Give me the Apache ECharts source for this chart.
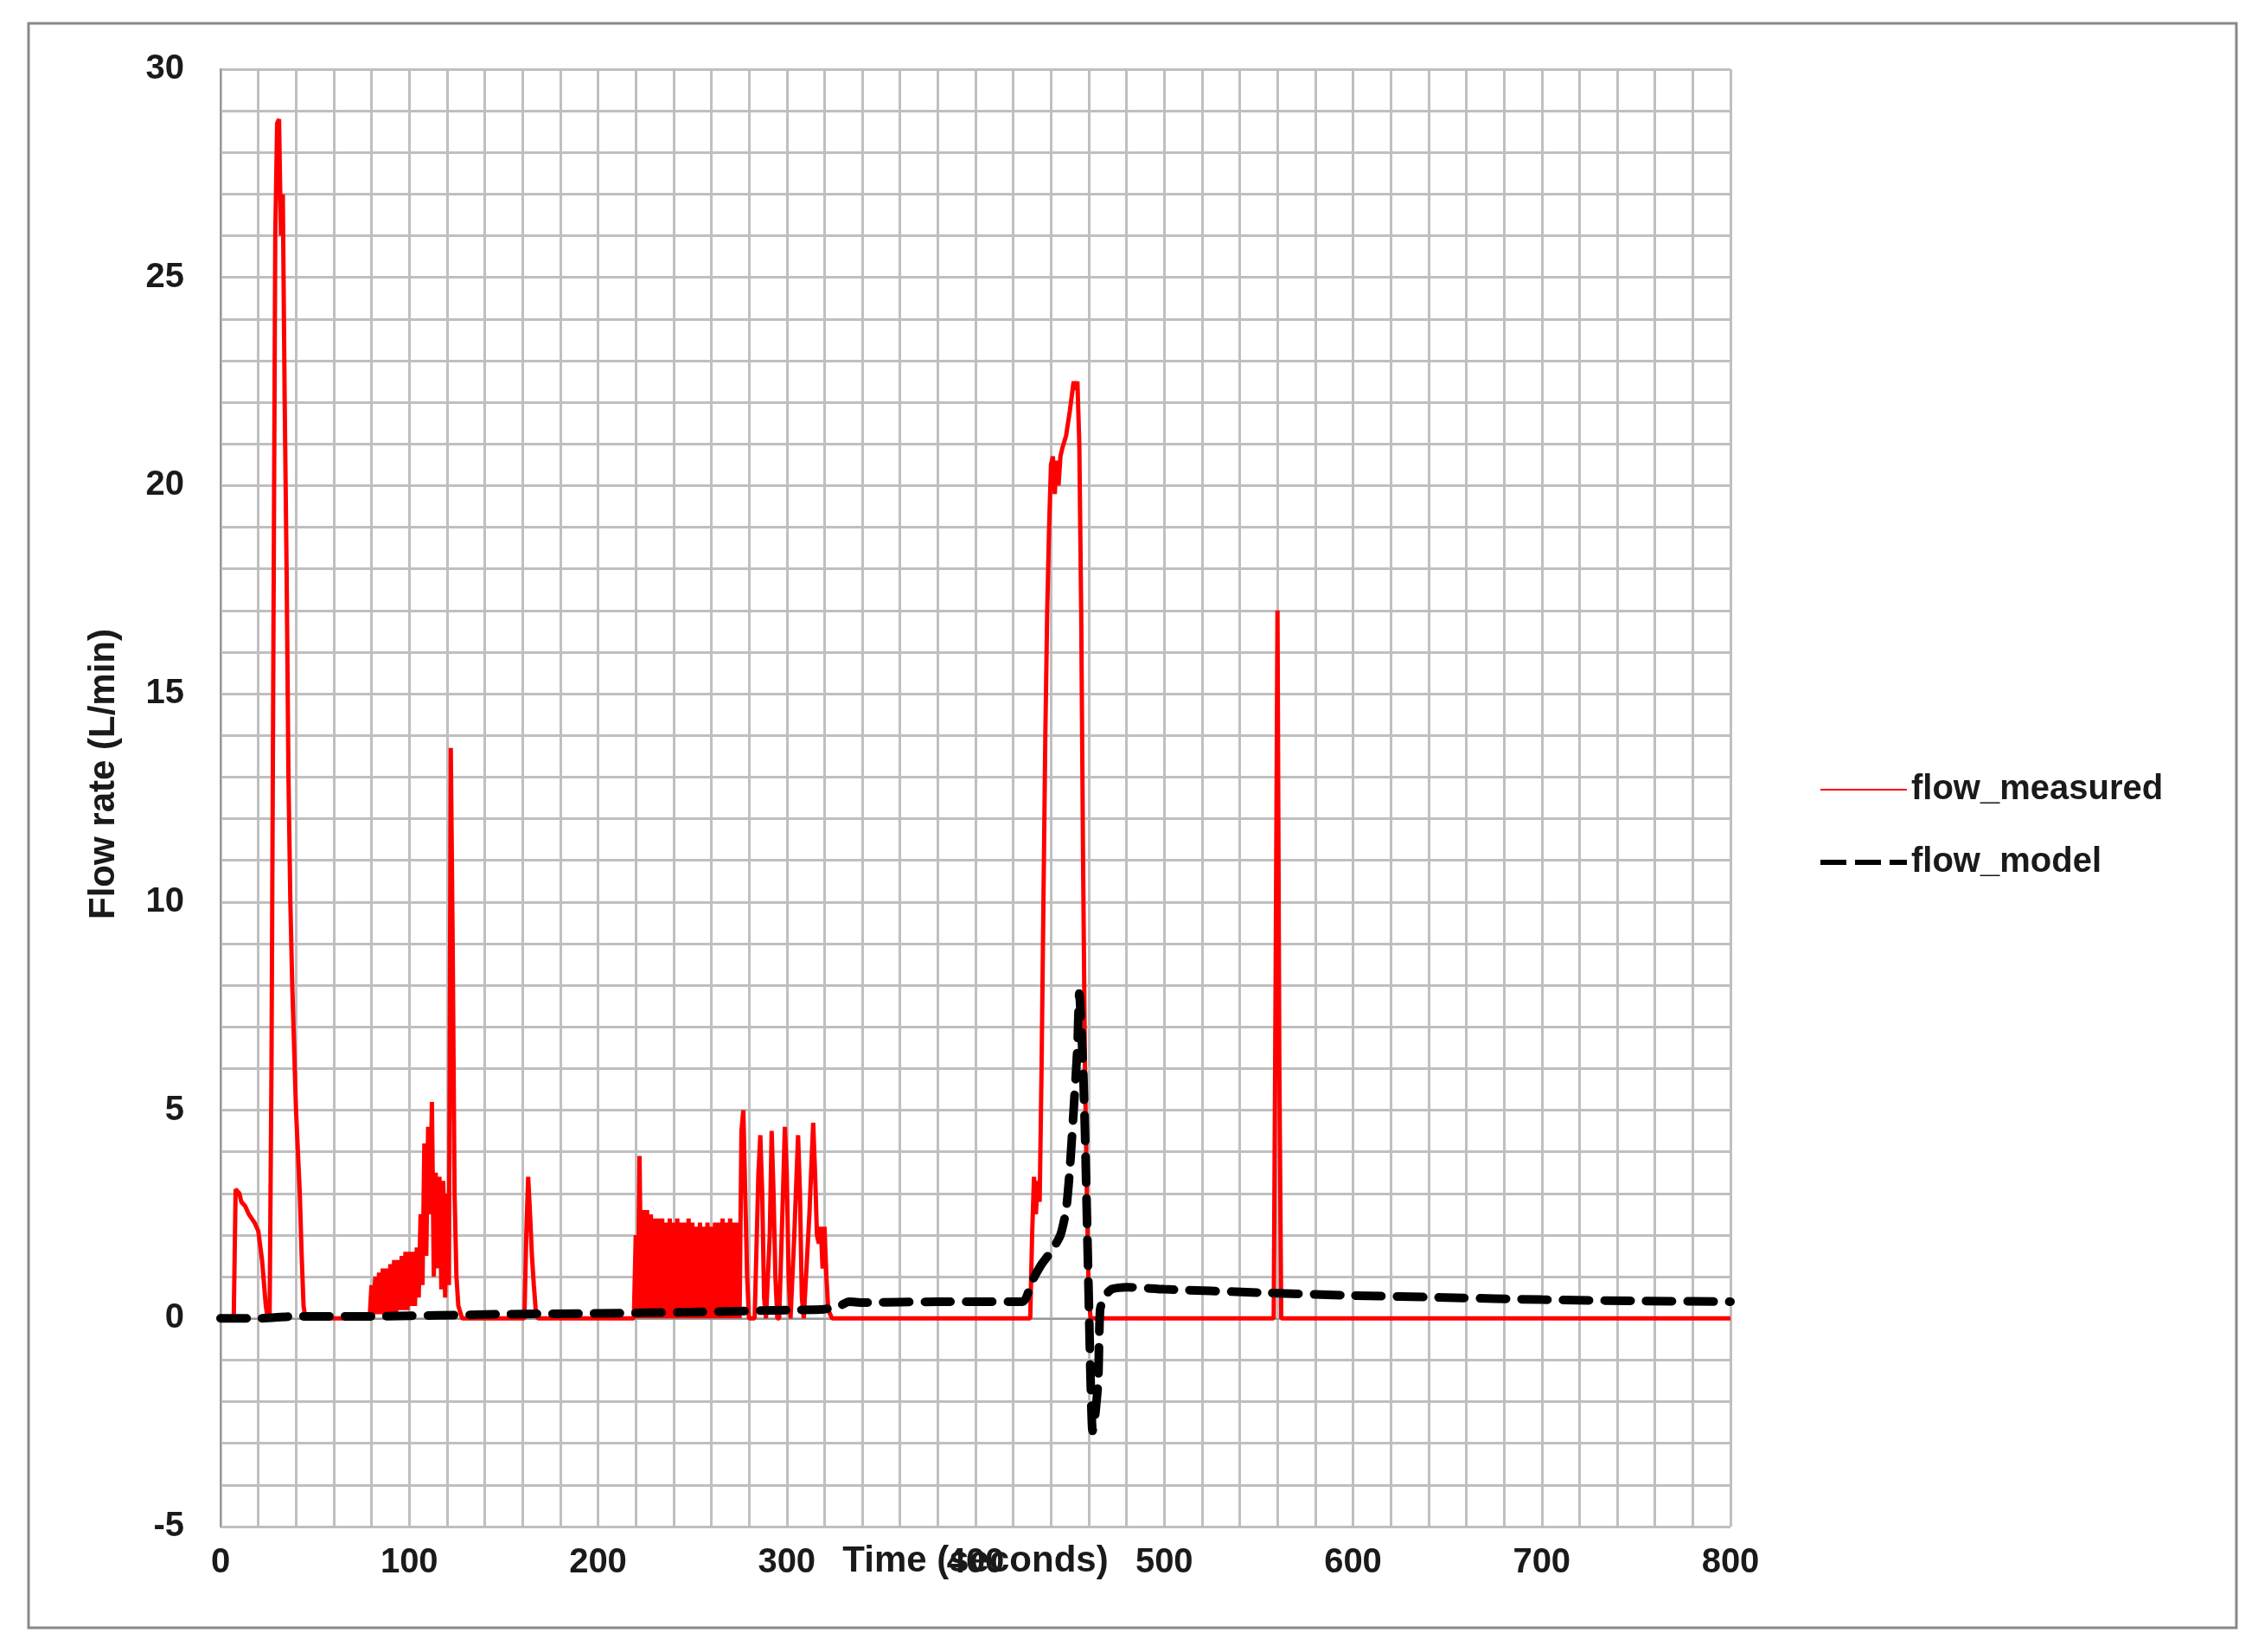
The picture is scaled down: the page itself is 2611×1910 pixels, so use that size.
<!DOCTYPE html>
<html>
<head>
<meta charset="utf-8">
<script src="https://cdn.jsdelivr.net/npm/echarts@6/dist/echarts.min.js"></script>
<style>html,body{margin:0;padding:0;background:#fff}#main{width:2611px;height:1910px}</style>
</head>
<body>
<div id="main"></div>
<script>
// flow_measured [time s, L/min]
const flowMeasured = [
  [0,0],[7,0],[8,3.1],[10,3.0],[11,2.8],[13,2.7],[15,2.5],[18,2.3],[20,2.1],[22,1.4],[24,0.3],[25,0],
  [26,0],[27,6],[28,16],[29,26],[30,28.7],[31,28.8],[32,26],[33,27],[34,22],[35,18],[36,13],[37,10],[38,8],
  [40,5],[42,3],[43,1.5],[44,0.3],[45,0],
  [79,0],[80,0.8],[81,0.1],[82,1.0],[83,0.1],[84,1.1],[85,0.1],[86,1.2],[87,0.1],[88,1.2],[89,0.1],[90,1.3],
  [91,0.1],[92,1.4],[93,0.1],[94,1.4],[95,0.2],[96,1.5],[97,0.2],[98,1.6],[99,0.2],[100,1.6],[101,0.3],
  [102,1.6],[103,0.3],[104,1.7],[105,0.5],[106,2.5],[107,0.8],[108,4.2],[109,1.5],[110,4.6],[111,2.5],
  [112,5.2],[113,1.0],[114,3.5],[115,1.2],[116,3.4],[117,0.7],[118,3.3],[119,0.5],[120,3.0],[121,0.8],
  [122,13.7],[123,9],[124,3.0],[125,1.0],[126,0.3],[128,0],
  [161,0],[162,2.0],[163,3.4],[164,2.5],[165,1.5],[166,0.8],[167,0.2],[168,0],
  [219,0],[220,2.0],[221,0],[222,3.9],[223,0],[224,2.6],[225,0],[226,2.6],[227,0],[228,2.5],[229,0],[230,2.4],
  [231,0],[232,2.4],[233,0],[234,2.4],[235,0],[236,2.3],[237,0],[238,2.4],[239,0],[240,2.3],[241,0],
  [242,2.4],[243,0],[244,2.3],[245,0],[246,2.3],[247,0],[248,2.4],[249,0],[250,2.3],[251,0],[252,2.2],
  [253,0],[254,2.3],[255,0],[256,2.2],[257,0],[258,2.3],[259,0],[260,2.2],[261,0],[262,2.3],[263,0],
  [264,2.3],[265,0],[266,2.4],[267,0],[268,2.3],[269,0],[270,2.4],[271,0],[272,2.3],[273,0],[274,2.3],
  [275,0],[276,4.5],[277,5.0],[278,3.0],[279,1.0],[280,0],
  [283,0],[285,3.5],[286,4.4],[287,3.0],[288,0.5],[289,0],[291,2.0],[292,4.5],[293,3.0],[294,1.0],[295,0],
  [296,0],[298,3.0],[299,4.6],[300,3.5],[301,1.0],[302,0],[304,2.0],[306,4.4],[307,3.0],[308,0.5],[309,0],
  [312,2.5],[314,4.7],[315,3.5],[316,2.0],[317,1.8],[318,2.2],[319,1.2],[320,2.2],[321,1.0],[322,0.2],
  [324,0],[330,0],[331,0],
  [429,0],[430,2.0],[431,3.4],[432,2.5],[433,3.3],[434,2.8],[435,6],[436,10],[437,14],[438,17],[439,19],
  [440,20.5],[441,20.7],[442,19.8],[443,20.6],[444,20.0],[445,20.7],[446,20.9],[448,21.2],[450,21.8],
  [452,22.5],[453,22.3],[454,22.5],[455,21],[456,17],[457,11],[458,6],[459,3],[460,0.5],[461,0],
  [558,0],[559,8],[560,17],[561,6],[562,0],[800,0]
];
// flow_model [time s, L/min]
const flowModel = [
  [0,0],[20,0],[40,0.05],[80,0.05],[150,0.1],[200,0.12],[250,0.15],[300,0.2],[320,0.22],[328,0.3],
  [333,0.4],[340,0.38],[380,0.4],[425,0.4],[430,0.9],[435,1.3],[440,1.6],[445,2.0],[448,2.6],[450,3.6],
  [452,5.0],[454,6.5],[455,7.8],[457,6.0],[458,4.5],[459,2.5],[460,0.5],[461,-1.5],[462,-2.7],[463,-2.5],
  [465,-1.5],[466,0.2],[468,0.5],[472,0.7],[480,0.75],[500,0.7],[550,0.62],[600,0.55],[650,0.5],[700,0.45],
  [750,0.42],[800,0.4]
];
const xTicks = [0, 100, 200, 300, 400, 500, 600, 700, 800];
const yTicks = [-5, 0, 5, 10, 15, 20, 25, 30];

const chart = echarts.init(document.getElementById('main'));
const labelFont = { fontFamily: 'Liberation Sans', fontWeight: 'bold', fontSize: 40, color: '#1a1a1a' };
chart.setOption({
  animation: false,
  backgroundColor: '#fff',
  grid: { left: 255, right: 610, top: 80, bottom: 145 },
  legend: {
    orient: 'vertical', left: 2100, top: 888, itemGap: 44, itemWidth: 100, itemHeight: 20,
    textStyle: { fontFamily: 'Liberation Sans', fontWeight: 'bold', fontSize: 40, color: '#1a1a1a' },
    data: [
      { name: 'flow_measured', icon: 'path://M0,9H100V11H0Z' },
      { name: 'flow_model', icon: 'path://M0,7H30V13H0ZM40,7H70V13H40ZM80,7H100V13H80Z' }
    ]
  },
  xAxis: {
    type: 'value', min: 0, max: 800, interval: 20,
    axisLine: { show: true, onZero: true, lineStyle: { color: '#999', width: 2 } },
    axisTick: { show: false },
    axisLabel: { ...labelFont, margin: 22, formatter: v => xTicks.includes(v) ? String(v) : '' },
    splitLine: { show: true, lineStyle: { color: '#bfbfbf', width: 3 } }
  },
  yAxis: {
    type: 'value', min: -5, max: 30, interval: 1,
    axisLine: { show: true, lineStyle: { color: '#999', width: 2 } },
    axisTick: { show: false },
    axisLabel: { ...labelFont, margin: 42, formatter: v => yTicks.includes(v) ? String(v) : '' },
    splitLine: { show: true, lineStyle: { color: '#bfbfbf', width: 3 } }
  },
  graphic: [
    { type: 'rect', shape: { x: 33, y: 27, width: 2553, height: 1855 }, style: { fill: 'none', stroke: '#888', lineWidth: 3 } },
    { type: 'text', x: 1128, y: 1805, style: { text: 'Time (seconds)', font: 'bold 42px Liberation Sans', fill: '#1a1a1a', textAlign: 'center', textVerticalAlign: 'middle' } },
    { type: 'text', x: 120, y: 895, rotation: Math.PI / 2, style: { text: 'Flow rate (L/min)', font: 'bold 42px Liberation Sans', fill: '#1a1a1a', textAlign: 'center', textVerticalAlign: 'middle' } }
  ],
  series: [
    { name: 'flow_measured', type: 'line', data: flowMeasured, showSymbol: false, z: 2,
      lineStyle: { color: '#ff0000', width: 5 }, itemStyle: { color: '#ff0000' } },
    { name: 'flow_model', type: 'line', data: flowModel, showSymbol: false, z: 3, smooth: 0.2,
      lineStyle: { color: '#000', width: 10, type: [30, 18], cap: 'round' }, itemStyle: { color: '#000' } }
  ]
});
</script>
</body>
</html>
